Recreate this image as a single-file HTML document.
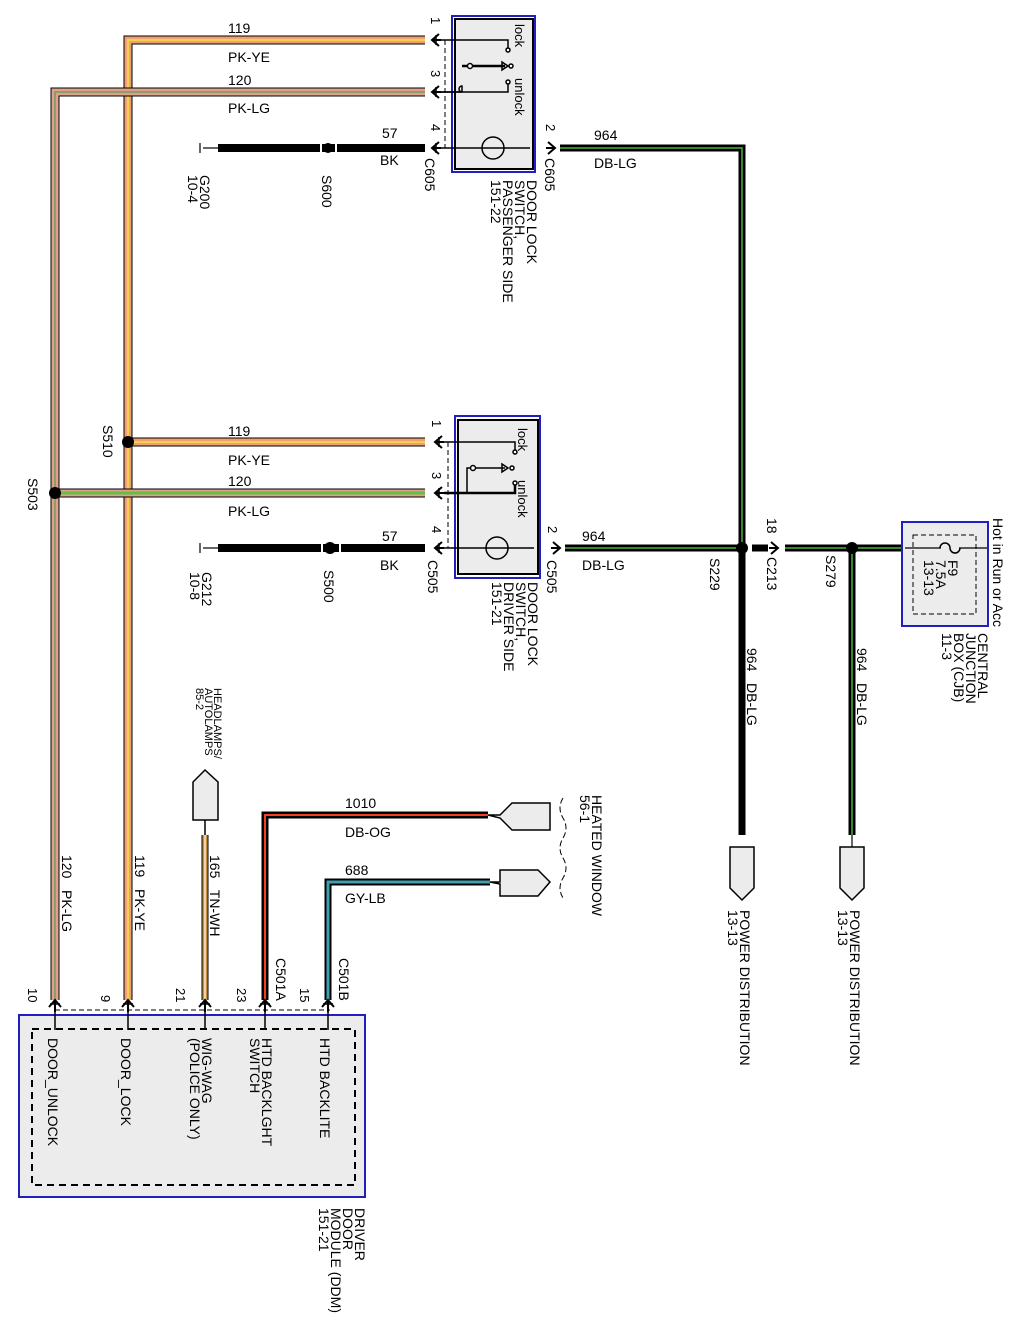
<!DOCTYPE html>
<html><head><meta charset="utf-8"><style>
html,body{margin:0;padding:0;background:#fff}
svg{display:block}
text{font-family:"Liberation Sans",sans-serif;fill:#000}
.w{font-size:14px}
.r{font-size:14px}
.p{font-size:13px}
.s{font-size:11px}
</style></head><body>
<svg width="1016" height="1326" viewBox="0 0 1016 1326" xmlns="http://www.w3.org/2000/svg">
<defs>
<g id="pinL"><path d="M7,-6 L0,0 L7,6" fill="none" stroke="#000" stroke-width="2"/><line x1="0" y1="0" x2="9" y2="0" stroke="#000" stroke-width="2"/><line x1="4" y1="-5" x2="4" y2="5" stroke="#000" stroke-width="1.5"/></g>
<g id="pinR"><path d="M-7,-6 L0,0 L-7,6" fill="none" stroke="#000" stroke-width="2"/><line x1="-9" y1="0" x2="0" y2="0" stroke="#000" stroke-width="2"/></g>
<g id="pinU"><path d="M-6,7 L0,0 L6,7" fill="none" stroke="#000" stroke-width="2"/><line x1="0" y1="0" x2="0" y2="12" stroke="#000" stroke-width="2"/><line x1="-5" y1="4" x2="5" y2="4" stroke="#000" stroke-width="1.5"/></g>
</defs>

<g fill="none" stroke-linejoin="miter">
<path d="M425,40 H128 V1000" stroke="#000" stroke-width="9"/>
<path d="M425,40 H128 V1000" stroke="#f0a070" stroke-width="7"/>
<path d="M425,40 H128 V1000" stroke="#f6d050" stroke-width="2"/>
<path d="M425,442 H128" stroke="#000" stroke-width="9"/>
<path d="M425,442 H128" stroke="#f0a070" stroke-width="7"/>
<path d="M425,442 H128" stroke="#f6d050" stroke-width="2"/>
<path d="M425,92 H55 V1000" stroke="#000" stroke-width="9"/>
<path d="M425,92 H55 V1000" stroke="#e0a090" stroke-width="7"/>
<path d="M425,92 H55 V1000" stroke="#8aa060" stroke-width="2"/>
<path d="M425,493 H55" stroke="#000" stroke-width="9"/>
<path d="M425,493 H55" stroke="#e0a090" stroke-width="7"/>
<path d="M425,493 H55" stroke="#60c040" stroke-width="3"/>
<path d="M218,148 H425" stroke="#000" stroke-width="8"/>
<path d="M218,548 H425" stroke="#000" stroke-width="8"/>
<path d="M560,148 H742 V835" stroke="#000" stroke-width="7"/>
<path d="M560,148 H742 V548" stroke="#50b040" stroke-width="1.5"/>
<path d="M565,548 H742" stroke="#000" stroke-width="7"/>
<path d="M565,548 H742" stroke="#50b040" stroke-width="1.5"/>
<path d="M752,548 H768 M785,548 H905" stroke="#000" stroke-width="7"/>
<path d="M785,548 H905" stroke="#50b040" stroke-width="1.5"/>
<path d="M852,548 V835" stroke="#000" stroke-width="7"/>
<path d="M852,548 V835" stroke="#50b040" stroke-width="1.5"/>
<path d="M205,835 V1000" stroke="#000" stroke-width="7"/>
<path d="M205,835 V1000" stroke="#c8903c" stroke-width="5"/>
<path d="M205,835 V1000" stroke="#fff" stroke-width="1.2"/>
<line x1="205" y1="820" x2="205" y2="835" stroke="#000" stroke-width="1.5"/>
<path d="M488,815 H265 V1000" stroke="#000" stroke-width="7"/>
<path d="M488,815 H265 V1000" stroke="#f04020" stroke-width="2"/>
<path d="M490,882 H328 V1000" stroke="#000" stroke-width="7"/>
<path d="M490,882 H328 V1000" stroke="#40a0b0" stroke-width="3"/>
</g>

<g stroke="#000" stroke-width="1.2">
<line x1="200" y1="143" x2="200" y2="153"/><line x1="203" y1="148" x2="218" y2="148"/>
<line x1="200" y1="543" x2="200" y2="553"/><line x1="203" y1="548" x2="218" y2="548"/>
</g>

<g fill="#000">
<circle cx="328" cy="148" r="5"/><circle cx="330" cy="548" r="6"/>
<circle cx="128" cy="442" r="6"/><circle cx="55" cy="493" r="6"/>
<circle cx="742" cy="548" r="6"/><circle cx="852" cy="548" r="6"/>
</g>
<rect x="320" y="140" width="2" height="16" fill="#fff"/><rect x="335" y="140" width="2" height="16" fill="#fff"/>
<rect x="321" y="540" width="2" height="16" fill="#fff"/><rect x="339" y="540" width="2" height="16" fill="#fff"/>
<use href="#pinR" x="778" y="548"/>

<!-- top switch -->
<rect x="452" y="16" width="83" height="156" fill="none" stroke="#2020c0" stroke-width="2"/>
<rect x="455" y="19" width="78" height="150" fill="#ececec" stroke="#000" stroke-width="2"/>
<line x1="445" y1="40" x2="445" y2="148" stroke="#000" stroke-dasharray="5,3"/>
<use href="#pinL" x="432" y="40"/><use href="#pinL" x="432" y="92"/><use href="#pinL" x="432" y="148"/>
<use href="#pinR" x="555" y="148"/>
<g stroke="#000" stroke-width="1.5" fill="none">
<path d="M441,40 H508 V48"/><circle cx="508" cy="50" r="2" fill="#fff"/>
<path d="M441,92 H462 M462,92 a3,3 0 0 1 0,-6 V92"/>
<path d="M441,92 H508 V84"/><circle cx="508" cy="82" r="2" fill="#fff"/>
<path d="M462,66 H505" stroke-width="2.5"/><circle cx="470" cy="66" r="2.5" fill="#fff"/>
<path d="M502,62 L508,66 L502,70 Z"/><circle cx="511" cy="66" r="2" fill="#fff"/>
<path d="M441,148 H530"/><circle cx="493" cy="148" r="11"/>
</g>
<text class="p" transform="translate(431,17) rotate(90)">1</text>
<text class="p" transform="translate(431,70) rotate(90)">3</text>
<text class="p" transform="translate(431,124) rotate(90)">4</text>
<text class="p" transform="translate(546,124) rotate(90)">2</text>
<text class="p" transform="translate(515,24) rotate(90)">lock</text>
<text class="p" transform="translate(515,78) rotate(90)">unlock</text>
<text class="r" transform="translate(425,158) rotate(90)">C605</text>
<text class="r" transform="translate(545,158) rotate(90)">C605</text>
<text class="r" transform="translate(527,180) rotate(90)"><tspan x="0" dy="0">DOOR LOCK</tspan><tspan x="0" dy="12">SWITCH,</tspan><tspan x="0" dy="12">PASSENGER SIDE</tspan><tspan x="0" dy="12">151-22</tspan></text>

<!-- middle switch -->
<rect x="455" y="416" width="85" height="162" fill="none" stroke="#2020c0" stroke-width="2"/>
<rect x="458" y="420" width="80" height="154" fill="#ececec" stroke="#000" stroke-width="2"/>
<line x1="448" y1="442" x2="448" y2="548" stroke="#000" stroke-dasharray="5,3"/>
<use href="#pinL" x="435" y="442"/><use href="#pinL" x="435" y="493"/><use href="#pinL" x="435" y="548"/>
<use href="#pinR" x="560" y="548"/>
<g stroke="#000" stroke-width="1.5" fill="none">
<path d="M444,442 H515 V450"/><circle cx="515" cy="452" r="2" fill="#fff"/>
<path d="M444,493 H515 V485" stroke-width="2.5"/><circle cx="515" cy="483" r="2" fill="#fff"/>
<path d="M467,493 V468 H505"/><circle cx="473" cy="468" r="2.5" fill="#fff"/>
<path d="M502,464 L508,468 L502,472 Z"/><circle cx="512" cy="468" r="2" fill="#fff"/>
<path d="M444,548 H534"/><circle cx="497" cy="548" r="11"/>
</g>
<text class="p" transform="translate(432,420) rotate(90)">1</text>
<text class="p" transform="translate(432,472) rotate(90)">3</text>
<text class="p" transform="translate(432,526) rotate(90)">4</text>
<text class="p" transform="translate(548,526) rotate(90)">2</text>
<text class="p" transform="translate(518,428) rotate(90)">lock</text>
<text class="p" transform="translate(518,480) rotate(90)">unlock</text>
<text class="r" transform="translate(428,560) rotate(90)">C505</text>
<text class="r" transform="translate(547,560) rotate(90)">C505</text>
<text class="r" transform="translate(528,582) rotate(90)"><tspan x="0" dy="0">DOOR LOCK</tspan><tspan x="0" dy="12">SWITCH,</tspan><tspan x="0" dy="12">DRIVER SIDE</tspan><tspan x="0" dy="12">151-21</tspan></text>

<!-- wire labels -->
<text class="w" x="228" y="33">119</text><text class="w" x="228" y="62">PK-YE</text>
<text class="w" x="228" y="85">120</text><text class="w" x="228" y="113">PK-LG</text>
<text class="w" x="382" y="138">57</text><text class="w" x="380" y="165">BK</text>
<text class="w" x="594" y="140">964</text><text class="w" x="594" y="168">DB-LG</text>
<text class="w" x="228" y="436">119</text><text class="w" x="228" y="465">PK-YE</text>
<text class="w" x="228" y="486">120</text><text class="w" x="228" y="516">PK-LG</text>
<text class="w" x="382" y="541">57</text><text class="w" x="380" y="570">BK</text>
<text class="w" x="582" y="541">964</text><text class="w" x="582" y="570">DB-LG</text>
<text class="r" transform="translate(200,175) rotate(90)"><tspan x="0">G200</tspan><tspan x="0" dy="12">10-4</tspan></text>
<text class="r" transform="translate(322,175) rotate(90)">S600</text>
<text class="r" transform="translate(202,572) rotate(90)"><tspan x="0">G212</tspan><tspan x="0" dy="12">10-8</tspan></text>
<text class="r" transform="translate(324,570) rotate(90)">S500</text>
<text class="r" transform="translate(103,425) rotate(90)">S510</text>
<text class="r" transform="translate(28,478) rotate(90)">S503</text>
<text class="r" transform="translate(710,558) rotate(90)">S229</text>
<text class="r" transform="translate(767,518) rotate(90)">18</text>
<text class="r" transform="translate(767,557) rotate(90)">C213</text>
<text class="r" transform="translate(826,555) rotate(90)">S279</text>
<text class="r" transform="translate(747,648) rotate(90)" xml:space="preserve">964   DB-LG</text>
<text class="r" transform="translate(857,648) rotate(90)" xml:space="preserve">964   DB-LG</text>
<text class="r" transform="translate(62,855) rotate(90)" xml:space="preserve">120   PK-LG</text>
<text class="r" transform="translate(135,855) rotate(90)" xml:space="preserve">119   PK-YE</text>
<text class="r" transform="translate(210,855) rotate(90)" xml:space="preserve">165   TN-WH</text>

<!-- CJB -->
<rect x="902" y="522" width="86" height="104" fill="#ececec" stroke="#2020c0" stroke-width="2"/>
<rect x="913" y="535" width="63" height="79" fill="none" stroke="#000" stroke-dasharray="5,3"/>
<line x1="905" y1="548" x2="987" y2="548" stroke="#000" stroke-width="1.2"/>
<rect x="941" y="546" width="18" height="4" fill="#ececec"/>
<path d="M940,548 a5,5 0 0 1 10,0 a5,5 0 0 0 10,0" fill="none" stroke="#000" stroke-width="1.5"/>
<text class="r" transform="translate(948,560) rotate(90)"><tspan x="0">F9</tspan><tspan x="0" dy="12">7.5A</tspan><tspan x="0" dy="12">13-13</tspan></text>
<text class="r" transform="translate(993,518) rotate(90)">Hot in Run or Acc</text>
<text class="r" transform="translate(978,633) rotate(90)"><tspan x="0">CENTRAL</tspan><tspan x="0" dy="12">JUNCTION</tspan><tspan x="0" dy="12">BOX (CJB)</tspan><tspan x="0" dy="12">11-3</tspan></text>

<!-- power distribution connectors -->
<path d="M730,847 H754 V888 L742,900 L730,888 Z" fill="#ececec" stroke="#000" stroke-width="1.5"/>
<path d="M840,847 H864 V888 L852,900 L840,888 Z" fill="#ececec" stroke="#000" stroke-width="1.5"/>
<line x1="852" y1="835" x2="852" y2="847" stroke="#000" stroke-width="1.2"/>
<text class="r" transform="translate(740,910) rotate(90)"><tspan x="0">POWER DISTRIBUTION</tspan><tspan x="0" dy="12">13-13</tspan></text>
<text class="r" transform="translate(850,910) rotate(90)"><tspan x="0">POWER DISTRIBUTION</tspan><tspan x="0" dy="12">13-13</tspan></text>

<!-- headlamps connector -->
<path d="M193,820 V782 L205,770 L218,782 V820 Z" fill="#ececec" stroke="#000" stroke-width="1.5"/>
<text class="s" transform="translate(214,688) rotate(90)"><tspan x="0">HEADLAMPS/</tspan><tspan x="0" dy="9">AUTOLAMPS</tspan><tspan x="0" dy="9">85-2</tspan></text>

<!-- heated window connectors -->
<path d="M488,815 H500 L512,803 H550 V830 H512 L500,818 Z" fill="#ececec" stroke="#000" stroke-width="1.5"/>
<path d="M490,882 H500 V870 H538 L550,882 L538,896 H500 V884 Z" fill="#ececec" stroke="#000" stroke-width="1.5"/>
<path d="M563,798 q-6,10 0,20 q6,10 0,20 q-6,10 0,20 q6,10 0,20 q-6,10 0,20" fill="none" stroke="#000" stroke-dasharray="6,3" stroke-width="1"/>
<text class="r" transform="translate(592,795) rotate(90)"><tspan x="0">HEATED WINDOW</tspan><tspan x="0" dy="12">56-1</tspan></text>
<text class="w" x="345" y="808">1010</text><text class="w" x="345" y="837">DB-OG</text>
<text class="w" x="345" y="875">688</text><text class="w" x="345" y="903">GY-LB</text>

<!-- DDM -->
<rect x="19" y="1015" width="346" height="182" fill="#ececec" stroke="#2020c0" stroke-width="2"/>
<rect x="32" y="1029" width="323" height="156" fill="none" stroke="#000" stroke-width="2" stroke-dasharray="7,5"/>
<line x1="55" y1="1010" x2="330" y2="1010" stroke="#000" stroke-dasharray="5,3"/>
<use href="#pinU" x="55" y="1000"/><use href="#pinU" x="128" y="1000"/><use href="#pinU" x="205" y="1000"/><use href="#pinU" x="265" y="1000"/><use href="#pinU" x="328" y="1000"/>
<g stroke="#000" stroke-width="1.5"><line x1="55" y1="1012" x2="55" y2="1030"/><line x1="128" y1="1012" x2="128" y2="1030"/><line x1="205" y1="1012" x2="205" y2="1030"/><line x1="265" y1="1012" x2="265" y2="1030"/><line x1="328" y1="1012" x2="328" y2="1030"/></g>
<text class="p" transform="translate(28,988) rotate(90)">10</text>
<text class="p" transform="translate(101,995) rotate(90)">9</text>
<text class="p" transform="translate(176,988) rotate(90)">21</text>
<text class="p" transform="translate(237,988) rotate(90)">23</text>
<text class="p" transform="translate(300,988) rotate(90)">15</text>
<text class="r" transform="translate(276,958) rotate(90)">C501A</text>
<text class="r" transform="translate(339,958) rotate(90)">C501B</text>
<text class="w" transform="translate(48,1038) rotate(90)">DOOR_UNLOCK</text>
<text class="w" transform="translate(121,1038) rotate(90)">DOOR_LOCK</text>
<text class="w" transform="translate(202,1038) rotate(90)"><tspan x="0">WIG-WAG</tspan><tspan x="0" dy="12">(POLICE ONLY)</tspan></text>
<text class="w" transform="translate(262,1038) rotate(90)"><tspan x="0">HTD BACKLGHT</tspan><tspan x="0" dy="12">SWITCH</tspan></text>
<text class="w" transform="translate(320,1038) rotate(90)">HTD BACKLITE</text>
<text class="r" transform="translate(355,1208) rotate(90)"><tspan x="0">DRIVER</tspan><tspan x="0" dy="12">DOOR</tspan><tspan x="0" dy="12">MODULE (DDM)</tspan><tspan x="0" dy="12">151-21</tspan></text>
</svg>
</body></html>
